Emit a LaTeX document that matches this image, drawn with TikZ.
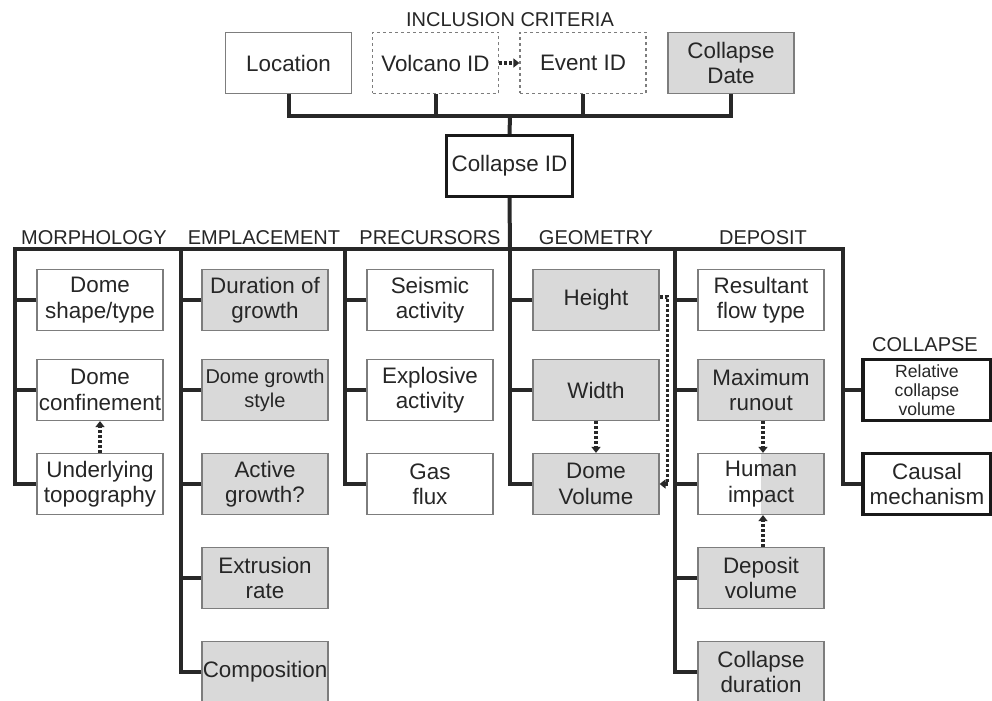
\documentclass[tikz,border=0pt]{standalone}
\usepackage{fontspec}
\setmainfont{Liberation Sans}
\usetikzlibrary{positioning,calc,arrows.meta}
\definecolor{boxgray}{RGB}{217,217,217}
\definecolor{edgegray}{RGB}{125,125,125}
\definecolor{linkdark}{RGB}{40,40,40}

\begin{document}
\begin{tikzpicture}[x=0.5pt,y=-0.5pt,font=\fontsize{11.2}{12.7}\selectfont]
		\tikzstyle{var_box}=[draw=edgegray, line width=0.6pt, fill=white, minimum width=63pt, minimum height=30.5pt, inner sep=0pt, align=center, text=black!85];
		\tikzstyle{var_new}=[var_box, fill=boxgray];
		\tikzstyle{var_id}=[var_box, draw=edgegray, dash pattern=on 1.5pt off 1.5pt];
		\tikzstyle{var_key}=[var_box, draw=black!90, line width=1.6pt];
		\tikzstyle{var_half}=[var_box, path picture={\fill[boxgray] (path picture bounding box.north) rectangle (path picture bounding box.south east);}];
		\tikzstyle{group_label}=[font=\fontsize{10}{12}\selectfont, anchor=base, inner sep=0pt, text=black!85];
		\tikzstyle{link_line}=[draw=linkdark, line width=2pt];
		\tikzstyle{dep_arrow}=[draw=linkdark, line width=1.6pt, dash pattern=on 1.5pt off 1pt, -{Triangle[length=3pt,width=4.5pt]}];

		\useasboundingbox (0,0) rectangle (992,701);

		% inclusion criteria
		\node[group_label] (incl) at (510,27) {INCLUSION CRITERIA};
		\node[var_box] (location) at (288.5,63) {Location};
		\node[var_id] (volcano) at (435.5,63) {Volcano ID};
		\node[var_id] (event) at (583,63) {Event ID};
		\node[var_new] (cdate) at (731,63) {Collapse\\Date};
		\node[var_key] (cid) at (509.5,166) {Collapse ID};

		\coordinate (topbus) at (510,116);
		\draw[link_line] (location.south) |- (topbus) -| (cdate.south);
		\draw[link_line] (volcano.south) -- (volcano.south |- topbus);
		\draw[link_line] (event.south) -- (event.south |- topbus);
		\draw[link_line] (topbus) -- (cid.north);
		\draw[dep_arrow] (volcano.east) -- (event.west);

		% group headings
		\node[group_label] (h_morph) at (94,245) {MORPHOLOGY};
		\node[group_label] (h_empl) at (264,245) {EMPLACEMENT};
		\node[group_label] (h_prec) at (430,245) {PRECURSORS};
		\node[group_label] (h_geom) at (596,245) {GEOMETRY};
		\node[group_label] (h_depo) at (763,245) {DEPOSIT};
		\node[group_label] (h_coll) at (925,351) {COLLAPSE};

		% morphology
		\node[var_box] (shape) at (100,300) {Dome\\shape/type};
		\node[var_box] (confine) at (100,390) {Dome\\confinement};
		\node[var_box] (topo) at (100,484) {Underlying\\topography};

		% emplacement
		\node[var_new] (grow_time) at (265,300) {Duration of\\growth};
		\node[var_new, font=\fontsize{10}{12}\selectfont] (grow_style) at (265,390) {Dome growth\\style};
		\node[var_new] (active) at (265,484) {Active\\growth?};
		\node[var_new] (extrusion) at (265,578) {Extrusion\\rate};
		\node[var_new] (comp) at (265,672) {Composition};

		% precursors
		\node[var_box] (seismic) at (430,300) {Seismic\\activity};
		\node[var_box] (explosive) at (430,390) {Explosive\\activity};
		\node[var_box] (gas) at (430,484) {Gas\\flux};

		% geometry
		\node[var_new] (height) at (596,300) {Height};
		\node[var_new] (width) at (596,390) {Width};
		\node[var_new] (dvol) at (596,484) {Dome\\Volume};

		% deposit
		\node[var_box] (flow) at (761,300) {Resultant\\flow type};
		\node[var_new] (runout) at (761,390) {Maximum\\runout};
		\node[var_half] (impact) at (761,484) {Human\\impact};
		\node[var_new] (depvol) at (761,578) {Deposit\\volume};
		\node[var_new] (cduration) at (761,672) {Collapse\\duration};

		% collapse
		\node[var_key, minimum width=64pt, font=\fontsize{8.8}{9.6}\selectfont] (relvol) at (927,390) {Relative\\collapse\\volume};
		\node[var_key, minimum width=64pt] (causal) at (927,484) {Causal\\mechanism};

		% tree below the collapse ID
		\coordinate (morph) at (15,249);
		\coordinate (empl) at (181,249);
		\coordinate (prec) at (345,249);
		\coordinate (geom) at (510,249);
		\coordinate (depo) at (675,249);
		\coordinate (coll) at (843,249);

		\draw[link_line] (cid.south) -- (geom);
		\draw[link_line] (topo.west) -| (morph) -- (coll) |- (causal.west);
		\foreach \b in {shape,confine} \draw[link_line] (\b.west) -| (morph);
		\foreach \b in {grow_time,grow_style,active,extrusion,comp} \draw[link_line] (\b.west) -| (empl);
		\foreach \b in {seismic,explosive,gas} \draw[link_line] (\b.west) -| (prec);
		\foreach \b in {height,width,dvol} \draw[link_line] (\b.west) -| (geom);
		\foreach \b in {flow,runout,impact,depvol,cduration} \draw[link_line] (\b.west) -| (depo);
		\draw[link_line] (relvol.west) -| (coll);

		% dependencies
		\draw[dep_arrow] (topo.north) -- (confine.south);
		\draw[dep_arrow] (width.south) -- (dvol.north);
		\draw[dep_arrow] ($(height.east)+(0,-3)$) -- ++(8,0) |- (dvol.east);
		\draw[dep_arrow] ($(runout.south)+(2,0)$) -- ($(impact.north)+(2,0)$);
		\draw[dep_arrow] ($(depvol.north)+(2,0)$) -- ($(impact.south)+(2,0)$);
	\end{tikzpicture}
\end{document}
